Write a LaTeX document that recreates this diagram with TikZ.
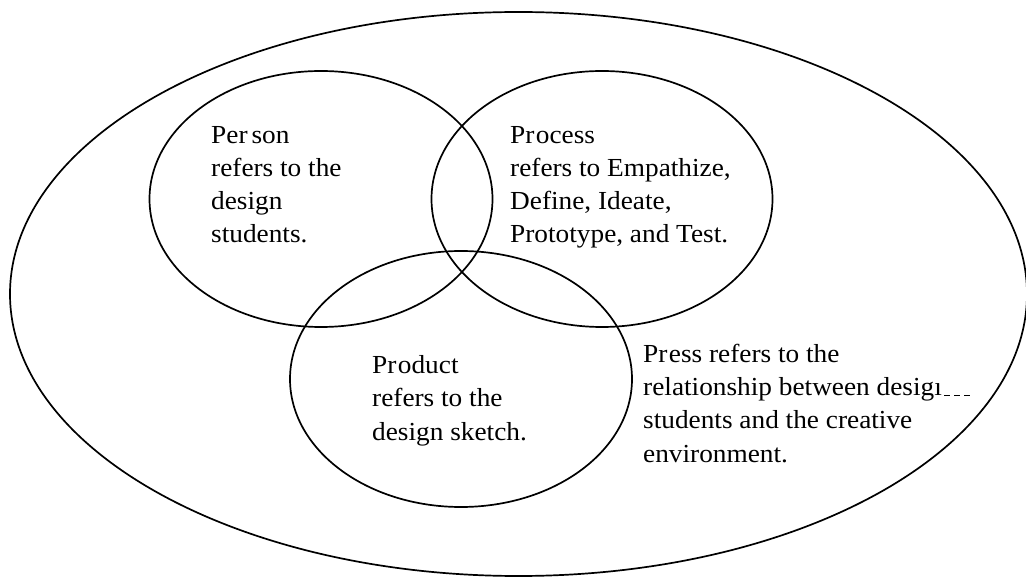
\documentclass[tikz,border=0pt]{standalone}
\usepackage{fontspec}
\setmainfont{Liberation Serif}[FakeStretch=1.05]
\usetikzlibrary{shapes.geometric}
\begin{document}
\begin{tikzpicture}[x=1pt,y=-1pt,
  ring/.style={draw, ellipse, line width=1.7pt, inner sep=0pt},
  txt/.style={anchor=base west, align=left, inner sep=0pt, font=\fontsize{26}{33.3}\selectfont}]
\useasboundingbox (0,0) rectangle (1026,577);
\node[ring, minimum width=1017, minimum height=564] (outer) at (518.5,294) {};
\node[ring, minimum width=343, minimum height=256] (person) at (321,199) {};
\node[ring, minimum width=341, minimum height=256] (process) at (602,199) {};
\node[ring, minimum width=342, minimum height=256] (product) at (461,379) {};
% base anchor of a multi-line node is the baseline of its last line
\node[txt] (persontxt) at (211,243) {Per\kern4pt son\\refers to the\\design\\students.};
\node[txt] (processtxt) at (510,243) {Pr\kern1.5pt ocess\\refers to Empathize,\\Define, Ideate,\\Prototype, and Test.};
\node[txt] (producttxt) at (372,440) {Pr\kern1.5pt oduct\\refers to the\\design sketch.};
\node[txt] (presstxt) at (643,462) {Pr\kern1.5pt ess refers to the\\relationship between desigı\\students and the creative\\environment.};
\coordinate (dashA) at (944,395);
\coordinate (dashB) at (973,395);
\draw[line width=0.9pt, dash pattern=on 6pt off 4pt] (dashA) -- (dashB);
\end{tikzpicture}
\end{document}
